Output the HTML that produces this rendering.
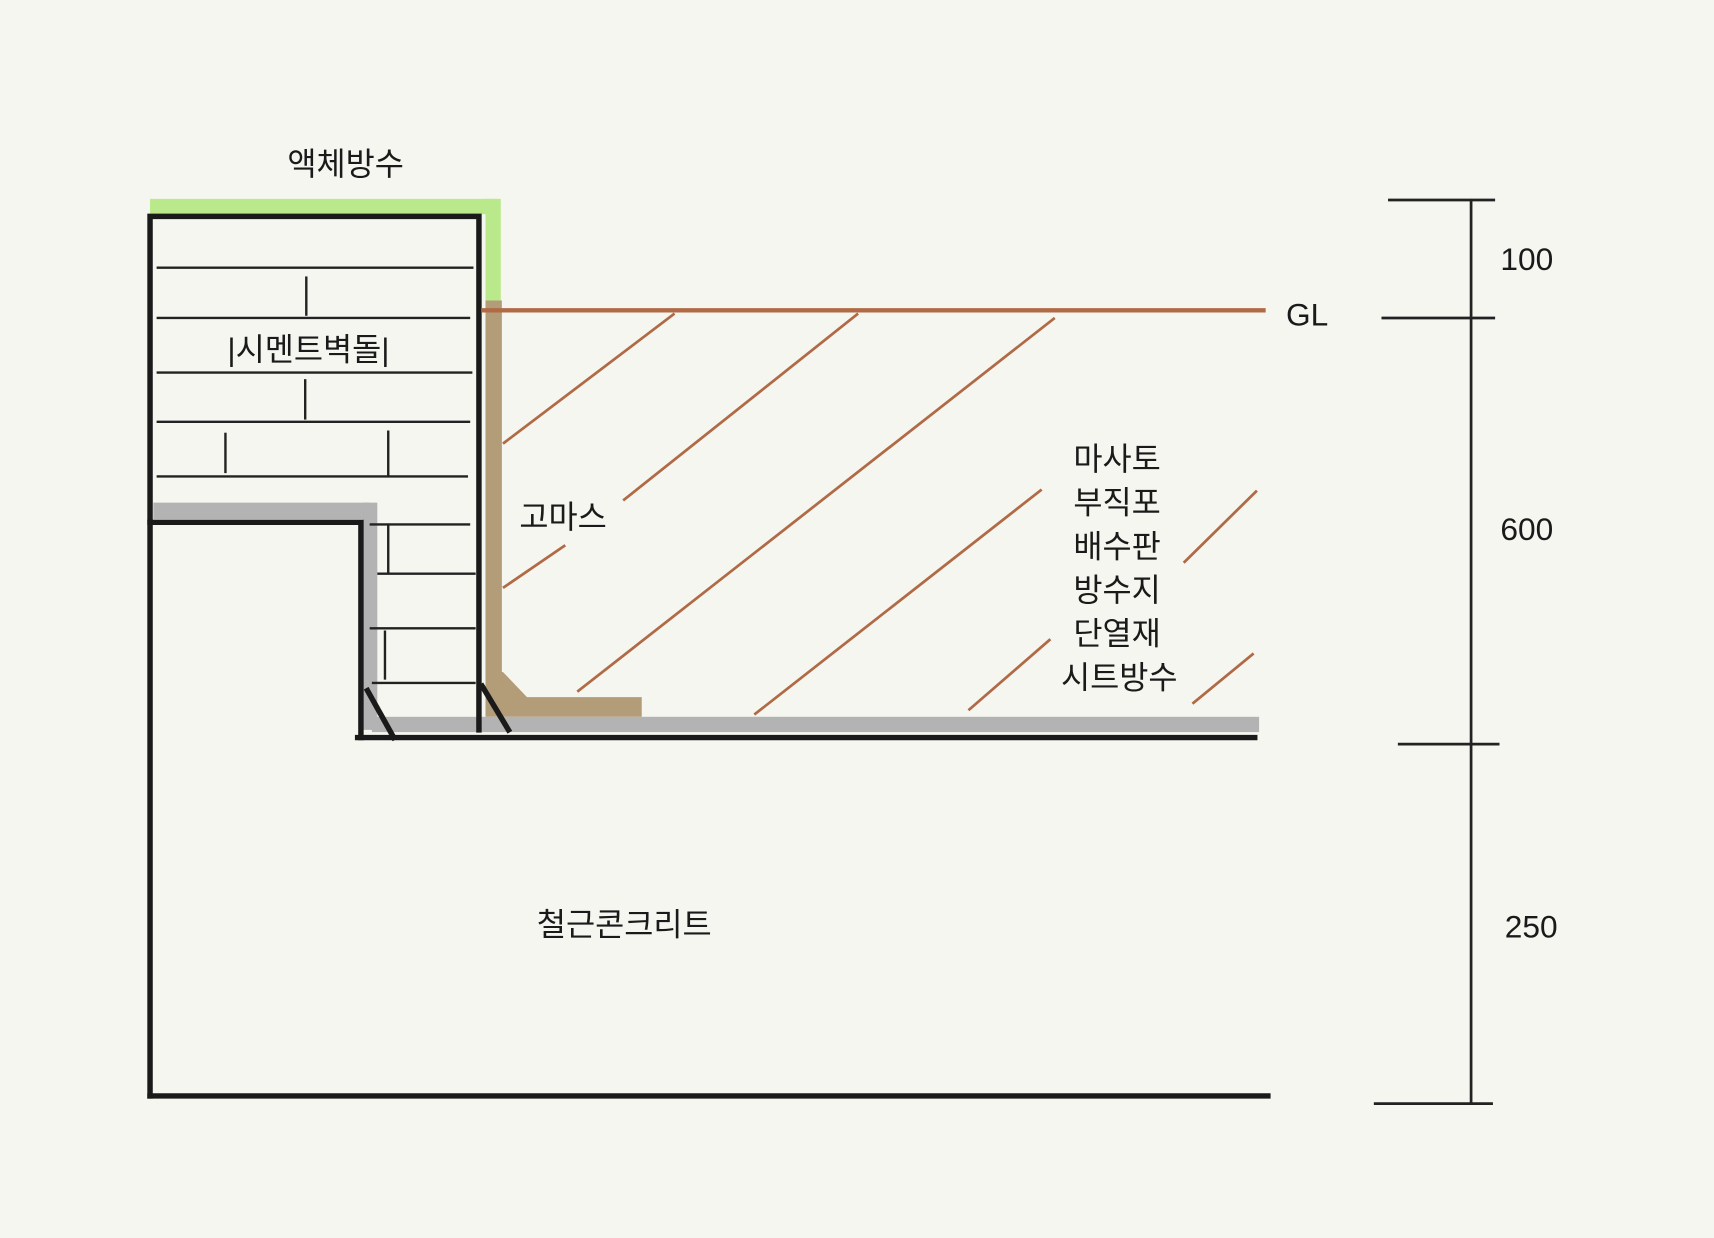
<!DOCTYPE html>
<html><head><meta charset="utf-8"><style>
html,body{margin:0;padding:0;background:#f6f6f1;}
svg{display:block;}
text{font-family:"Liberation Sans","Noto Sans CJK KR",sans-serif;fill:#1a1a1a;}
</style></head><body>
<svg width="1714" height="1238" viewBox="0 0 1568 1133" xmlns="http://www.w3.org/2000/svg">
<rect width="1568" height="1133" fill="#f6f6f1"/>
<!-- green liquid waterproofing -->
<rect x="137" y="182" width="318" height="14" fill="#b9e98a"/>
<rect x="444" y="182" width="14" height="103" fill="#b9e98a"/>
<!-- gray layers -->
<rect x="140" y="460" width="198" height="15" fill="#b3b3b3"/>
<rect x="332" y="460" width="13" height="208" fill="#b3b3b3"/>
<rect x="340" y="656" width="812" height="14" fill="#b3b3b3"/>
<!-- brown 고마스 -->
<rect x="444" y="275" width="15" height="360" fill="#b39d78"/>
<path d="M444 615 L460 615 L482 638 L587 638 L587 656 L444 656 Z" fill="#b39d78"/>
<!-- black outlines -->
<g stroke="#1a1a1a" stroke-width="5" fill="none" stroke-linecap="square">
<path d="M137 1003 L137 198 L438 198 L438 668"/>
<path d="M137 478 L330 478 L330 675"/>
<path d="M327 675 L1148 675"/>
<path d="M137 1003 L1160 1003"/>
<path d="M336 632 L360 675"/>
<path d="M441 628 L465 668"/>
</g>
<!-- bricks -->
<g stroke="#222" stroke-width="2.2">
<line x1="143" y1="245" x2="433" y2="245"/>
<line x1="143" y1="291" x2="430" y2="291"/>
<line x1="143" y1="341" x2="432" y2="341"/>
<line x1="143" y1="386" x2="430" y2="386"/>
<line x1="143" y1="436" x2="428" y2="436"/>
<line x1="280" y1="253" x2="280" y2="289"/>
<line x1="279" y1="347" x2="279" y2="384"/>
<line x1="206" y1="396" x2="206" y2="433"/>
<line x1="355" y1="394" x2="355" y2="436"/>
<line x1="338" y1="480" x2="430" y2="480"/>
<line x1="345" y1="525" x2="435" y2="525"/>
<line x1="338" y1="575" x2="435" y2="575"/>
<line x1="340" y1="625" x2="435" y2="625"/>
<line x1="355" y1="480" x2="355" y2="525"/>
<line x1="352" y1="577" x2="352" y2="622"/>
</g>
<!-- GL line and hatching -->
<line x1="440" y1="284" x2="1158" y2="284" stroke="#b06a45" stroke-width="4"/>
<g stroke="#b06a45" stroke-width="2.5">
<line x1="460" y1="406" x2="617" y2="287"/>
<line x1="570" y1="458" x2="785" y2="287"/>
<line x1="460" y1="538" x2="517" y2="499"/>
<line x1="528" y1="633" x2="965" y2="291"/>
<line x1="690" y1="654" x2="953" y2="448"/>
<line x1="886" y1="650" x2="961" y2="585"/>
<line x1="1083" y1="515" x2="1150" y2="449"/>
<line x1="1091" y1="644" x2="1147" y2="598"/>
</g>
<!-- dimension -->
<g stroke="#222" stroke-width="2.5">
<line x1="1346" y1="182" x2="1346" y2="1010"/>
<line x1="1270" y1="183" x2="1368" y2="183"/>
<line x1="1264" y1="291" x2="1368" y2="291"/>
<line x1="1279" y1="681" x2="1372" y2="681"/>
<line x1="1257" y1="1010" x2="1366" y2="1010"/>
</g>
<!-- text -->
<g font-size="29" text-anchor="middle">
<text x="316" y="160">액체방수</text>
<text x="282" y="330">|시멘트벽돌|</text>
<text x="515" y="483">고마스</text>
<text x="1022" y="430">마사토</text>
<text x="1022" y="470">부직포</text>
<text x="1022" y="510">배수판</text>
<text x="1022" y="550">방수지</text>
<text x="1022" y="590">단열재</text>
<text x="1024" y="630">시트방수</text>
<text x="571" y="856">철근콘크리트</text>
<text x="1196" y="298">GL</text>
<text x="1397" y="247">100</text>
<text x="1397" y="494">600</text>
<text x="1401" y="858">250</text>
</g>
</svg>
</body></html>
